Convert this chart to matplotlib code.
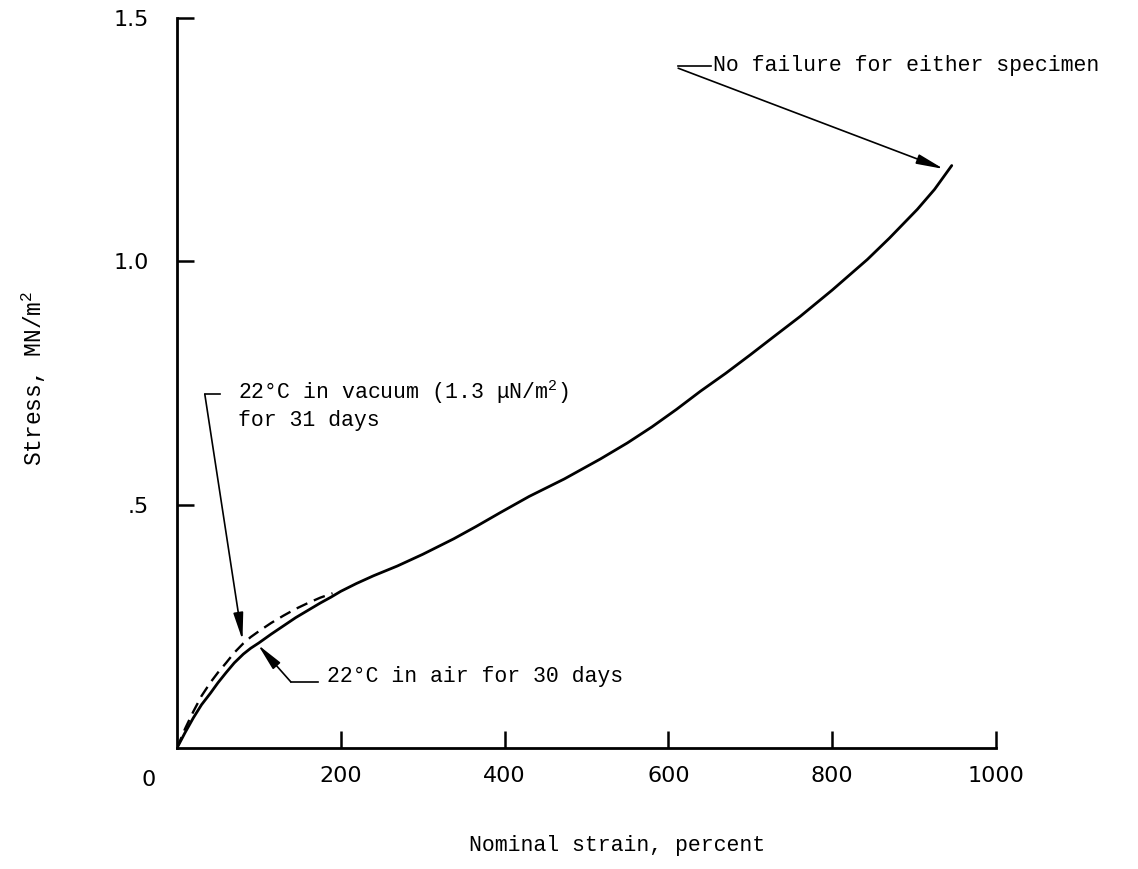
import matplotlib.pyplot as plt

plt.rcParams['mathtext.fontset'] = 'custom'
plt.rcParams['mathtext.rm'] = 'Liberation Mono'
plt.rcParams['mathtext.it'] = 'Liberation Mono'

# Stress-strain curves
strain_air = [0, 10, 20, 30, 41, 50, 60, 70, 81, 90, 100, 115, 130, 145, 162, 175,
              188, 200, 219, 240, 269, 300, 338, 365, 395, 430, 473, 517, 550,
              580, 610, 639, 670, 700, 730, 761, 800, 843, 870, 904, 925, 946]
stress_air = [0, 0.032, 0.062, 0.089, 0.113, 0.134, 0.155, 0.175, 0.193, 0.205,
              0.216, 0.234, 0.251, 0.268, 0.285, 0.298, 0.31, 0.322, 0.338,
              0.354, 0.374, 0.398, 0.43, 0.455, 0.484, 0.517, 0.553, 0.594,
              0.627, 0.66, 0.696, 0.733, 0.77, 0.808, 0.847, 0.887, 0.941,
              1.004, 1.048, 1.107, 1.148, 1.197]

strain_vac = [0, 10, 20, 30, 41, 50, 60, 70, 81, 90, 100, 115, 130, 145, 160, 175, 190]
stress_vac = [0, 0.04, 0.075, 0.107, 0.135, 0.155, 0.175, 0.196, 0.215, 0.228,
              0.24, 0.257, 0.272, 0.286, 0.298, 0.309, 0.318]

xticks = [200, 400, 600, 800, 1000]
xticklabels = ['200', '400', '600', '800', '1000']
yticks = [0.5, 1.0, 1.5]
yticklabels = ['.5', '1.0', '1.5']

mono = 'Liberation Mono'

fig = plt.figure(figsize=(11.38, 8.69), dpi=100)
ax = fig.add_axes([0.1555, 0.1392, 0.7197, 0.840])

ax.plot(strain_air, stress_air, color='black', lw=2.0, solid_capstyle='round',
        solid_joinstyle='round')
ax.plot(strain_vac, stress_vac, color='black', lw=1.7, dashes=(5, 3))

ax.set_xlim(0, 1000)
ax.set_ylim(0, 1.5)
ax.spines['top'].set_visible(False)
ax.spines['right'].set_visible(False)
ax.spines['left'].set_linewidth(2.0)
ax.spines['bottom'].set_linewidth(2.0)

ax.set_xticks(xticks)
ax.set_xticklabels(xticklabels, fontsize=16, family='DejaVu Sans')
ax.set_yticks(yticks)
ax.set_yticklabels(yticklabels, fontsize=16, family='DejaVu Sans')
ax.tick_params(axis='x', direction='in', length=12, width=1.8, pad=13)
ax.tick_params(axis='y', direction='in', length=12, width=1.8, pad=20)

# origin label
ax.text(-35, -0.066, '0', fontsize=16, family='DejaVu Sans', ha='center', va='center')

fig.text(617 / 1138, 1 - 846 / 869, 'Nominal strain, percent', family=mono,
         fontsize=15.5, ha='center', va='center')
fig.text(34 / 1138, 1 - 378 / 869, r'Stress, MN/m$^{2}$', family=mono,
         fontsize=16.5, rotation=90, ha='center', va='center')

arrow = dict(arrowstyle='-|>,head_length=1.1,head_width=0.2', color='black',
             lw=1.2, shrinkA=0, shrinkB=0, mutation_scale=15)

# No failure note
ax.annotate('', xy=(936, 1.19), xytext=(612, 1.397), arrowprops=arrow)
ax.plot([612, 652], [1.401, 1.401], color='black', lw=1.2)
ax.text(654, 1.403, 'No failure for either specimen', family=mono, fontsize=15.5,
        ha='left', va='center')

# vacuum note
ax.annotate('', xy=(80, 0.222), xytext=(34, 0.727), arrowprops=arrow)
ax.plot([34, 53], [0.727, 0.727], color='black', lw=1.2)
ax.text(74, 0.731, r'22°C in vacuum (1.3 μN/m$^{2}$)', family=mono,
        fontsize=15.5, ha='left', va='center')
ax.text(74, 0.674, 'for 31 days', family=mono, fontsize=15.5, ha='left', va='center')

# air note
ax.annotate('', xy=(99, 0.212), xytext=(139, 0.136), arrowprops=arrow)
ax.plot([139, 172], [0.136, 0.136], color='black', lw=1.2)
ax.text(183, 0.146, '22°C in air for 30 days', family=mono, fontsize=15.5,
        ha='left', va='center')

plt.savefig('out.png', dpi=100)
